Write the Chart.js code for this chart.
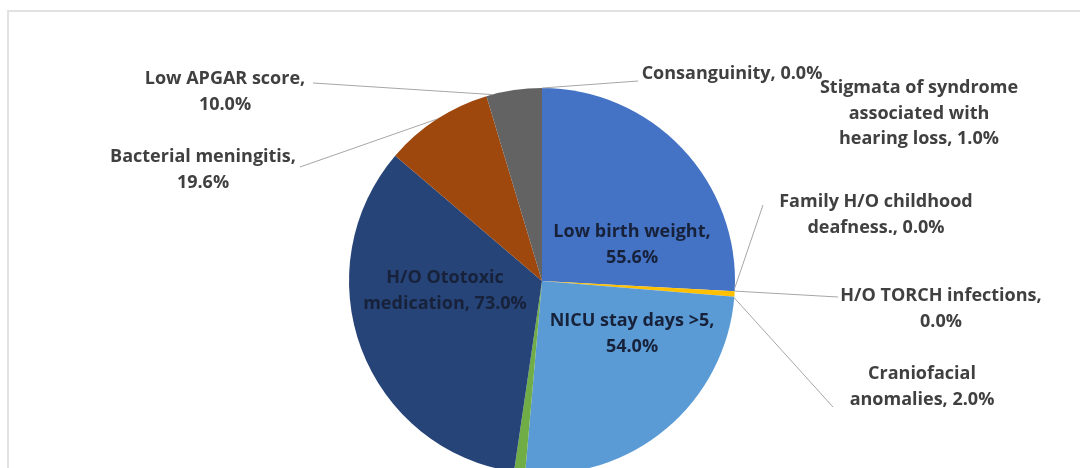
<!DOCTYPE html>
<html>
<head>
<meta charset="utf-8">
<script src="https://cdn.jsdelivr.net/npm/chart.js@4"></script>
<style>
  html, body { margin: 0; padding: 0; background: #fff; width: 1080px; height: 468px; overflow: hidden; }
  #frame { position: absolute; left: 7px; top: 10px; width: 1100px; height: 600px; border: 2px solid #e2e2e2; box-sizing: border-box; }
  #wrap { position: absolute; left: 0; top: 0; width: 1080px; height: 560px; }
</style>
</head>
<body>
<div id="frame"></div>
<div id="wrap"><canvas id="pie_chart" width="1080" height="560"></canvas></div>
<script>
// slice order runs clockwise from 12 o'clock, as in the original
const factors = [
  "Low birth weight",
  "Family H/O childhood deafness.",
  "H/O TORCH infections",
  "Stigmata of syndrome associated with hearing loss",
  "NICU stay days >5",
  "Craniofacial anomalies",
  "H/O Ototoxic medication",
  "Bacterial meningitis",
  "Low APGAR score",
  "Consanguinity"
];
const percents = [55.6, 0.0, 0.0, 1.0, 54.0, 2.0, 73.0, 19.6, 10.0, 0.0];
const sliceColors = ["#4472C4", "#ED7D31", "#A5A5A5", "#FFC000", "#5B9BD5",
                     "#70AD47", "#264478", "#9E480E", "#636363", "#997300"];

/** where each data label sits, relative to the pie centre.
 *  lines: text broken the way the original wraps it ({v} = value)
 *  lead: [x, y] start of leader line, angle: where it meets the rim (deg, clockwise from top) */
const labelLayout = [
  { i: 0, lines: ["Low birth weight,", "{v}"], x: 90, y: -49, inside: true },
  { i: 4, lines: ["NICU stay days >5,", "{v}"], x: 90, y: 40, inside: true },
  { i: 6, lines: ["H/O Ototoxic", "medication, {v}"], x: -97, y: -3, inside: true },
  { i: 8, lines: ["Low APGAR score,", "{v}"], x: -317, y: -202, lead: [-229, -198], angle: 345 },
  { i: 7, lines: ["Bacterial meningitis,", "{v}"], x: -339, y: -124, lead: [-242, -114], angle: 327 },
  { i: 9, lines: ["Consanguinity, {v}"], x: 190, y: -207, lead: [96, -200], angle: 0 },
  { i: 3, lines: ["Stigmata of syndrome", "associated with", "hearing loss, {v}"], x: 377, y: -193 },
  { i: 1, lines: ["Family H/O childhood", "deafness., {v}"], x: 334, y: -79, lead: [221, -76], angle: 92 },
  { i: 2, lines: ["H/O TORCH infections,", "{v}"], x: 399, y: 15, lead: [296, 16], angle: 93 },
  { i: 5, lines: ["Craniofacial", "anomalies, {v}"], x: 380, y: 93, lead: [291, 126], angle: 95 }
];

const labelPlugin = {
  id: "sliceLabels",
  afterDatasetsDraw(chart) {
    const ctx = chart.ctx;
    const arc = chart.getDatasetMeta(0).data[0];
    const cx = arc.x, cy = arc.y, r = arc.outerRadius;
    ctx.save();
    // leader lines
    ctx.strokeStyle = "#a6a6a6";
    ctx.lineWidth = 1;
    labelLayout.forEach(l => {
      if (!l.lead) return;
      const a = l.angle * Math.PI / 180;
      ctx.beginPath();
      ctx.moveTo(cx + l.lead[0], cy + l.lead[1]);
      ctx.lineTo(cx + r * Math.sin(a), cy - r * Math.cos(a));
      ctx.stroke();
    });
    // texts
    ctx.font = "bold 18px 'Open Sans'";
    ctx.textAlign = "center";
    ctx.textBaseline = "middle";
    labelLayout.forEach(l => {
      const v = percents[l.i].toFixed(1) + "%";
      ctx.fillStyle = l.inside ? "#17223a" : "#404040";
      l.lines.forEach((t, k) => {
        ctx.fillText(t.replace("{v}", v), cx + l.x, cy + l.y + k * 25.5);
      });
    });
    ctx.restore();
  }
};

const chart = new Chart(document.getElementById("pie_chart"), {
  type: "pie",
  data: {
    labels: factors,
    datasets: [{
      data: percents,
      backgroundColor: sliceColors,
      borderWidth: 0
    }]
  },
  options: {
    responsive: false,
    animation: false,
    layout: { padding: { left: 349, right: 345, top: 88, bottom: 86 } },
    plugins: {
      legend: { display: false },
      tooltip: { enabled: false }
    }
  },
  plugins: [labelPlugin]
});
</script>
</body>
</html>
